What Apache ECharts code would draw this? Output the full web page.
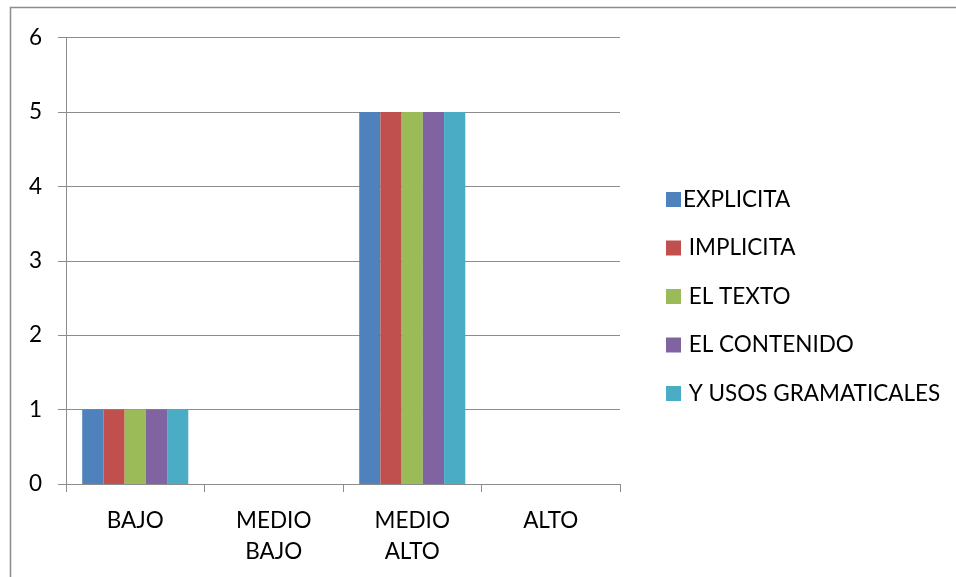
<!DOCTYPE html>
<html>
<head>
<meta charset="utf-8">
<style>
  html, body { margin: 0; padding: 0; background: #fff; }
  #chart { width: 956px; height: 577px; }
</style>
<script src="https://cdn.jsdelivr.net/npm/echarts@6/dist/echarts.min.js"></script>
</head>
<body>
<div id="chart"></div>
<script>
// Category labels along the x axis
const categories = ['BAJO', 'MEDIO\nBAJO', 'MEDIO\nALTO', 'ALTO'];

// Series names (as shown in the legend) and their values
const seriesNames = ['EXPLICITA', ' IMPLICITA', ' EL TEXTO', ' EL CONTENIDO', ' Y USOS GRAMATICALES'];
const explicita = [1, 0, 5, 0];
const implicita = [1, 0, 5, 0];
const elTexto = [1, 0, 5, 0];
const elContenido = [1, 0, 5, 0];
const usosGramaticales = [1, 0, 5, 0];
const seriesValues = [explicita, implicita, elTexto, elContenido, usosGramaticales];

// Y axis range
const yMin = 0;
const yMax = 6;
const yStep = 1;

const colors = ['#4F81BD', '#C0504D', '#9BBB59', '#8064A2', '#4BACC6'];
const lineGray = '#8c8c8c';
const font = 'Lato, "Liberation Sans", sans-serif';

const chart = echarts.init(document.getElementById('chart'), null, { renderer: 'canvas' });

chart.setOption({
  animation: false,
  color: colors,
  textStyle: { fontFamily: font },
  graphic: [{
    type: 'rect',
    silent: true,
    shape: { x: 10.5, y: 7.5, width: 1000, height: 1000 },
    style: { fill: 'none', stroke: lineGray, lineWidth: 1.5 }
  }],
  grid: { left: 66, top: 37.5, right: 336, bottom: 93, containLabel: false },
  legend: {
    orient: 'vertical',
    left: 661,
    top: 183,
    itemWidth: 15,
    itemHeight: 15,
    itemGap: 25.5,
    icon: 'rect',
    textStyle: { fontFamily: font, fontSize: 22.5, lineHeight: 22, color: '#000', padding: [0, 0, 0, -3] },
    data: seriesNames
  },
  xAxis: {
    type: 'category',
    data: categories,
    axisLine: { show: true, lineStyle: { color: lineGray, width: 1 } },
    axisTick: { show: true, length: 8, lineStyle: { color: lineGray } },
    axisLabel: { color: '#000', fontSize: 22.5, fontFamily: font, margin: 21, lineHeight: 31 },
    splitLine: { show: false }
  },
  yAxis: {
    type: 'value',
    min: yMin,
    max: yMax,
    interval: yStep,
    axisLine: { show: true, lineStyle: { color: lineGray, width: 1 } },
    axisTick: { show: true, length: 8, lineStyle: { color: lineGray } },
    axisLabel: { color: '#000', fontSize: 22.5, fontFamily: font, margin: 24 },
    splitLine: { show: true, lineStyle: { color: lineGray, width: 1 } }
  },
  series: seriesNames.map((name, i) => ({
    name: name,
    type: 'bar',
    data: seriesValues[i],
    barGap: '0%',
    barCategoryGap: '23.4%',
    itemStyle: { color: colors[i] }
  }))
});
</script>
</body>
</html>
